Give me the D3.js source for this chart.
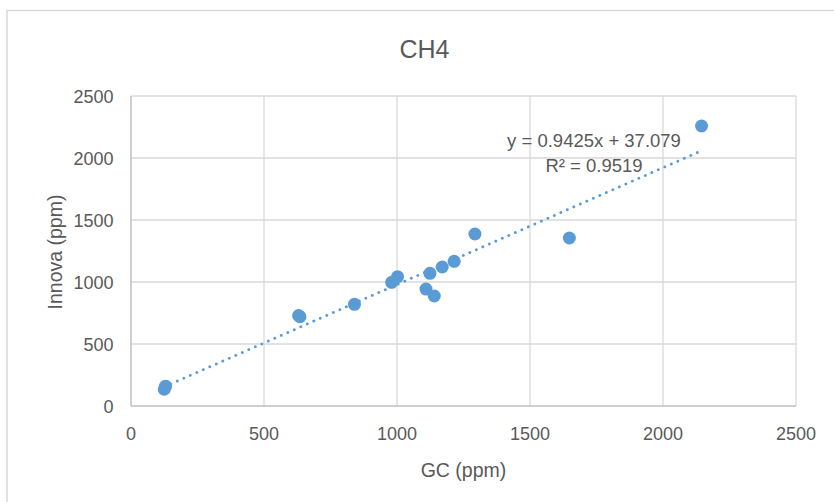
<!DOCTYPE html>
<html><head><meta charset="utf-8">
<script src="https://cdn.jsdelivr.net/npm/d3@7"></script>
<style>body{margin:0;background:#fff}svg{display:block}text{font-family:"Liberation Sans",Arial,sans-serif;fill:#595959}</style>
</head><body><svg id="c" width="834" height="502"></svg>
<script>
const gcValues = [125, 130, 630, 635, 840, 980, 1002, 1109, 1124, 1140, 1170, 1215, 1293, 1648, 2145];
const innovaValues = [135, 160, 730, 720, 820, 997, 1043, 943, 1070, 887, 1121, 1167, 1387, 1355, 2258];
const xTicks = [0, 500, 1000, 1500, 2000, 2500];
const yTicks = [0, 500, 1000, 1500, 2000, 2500];
const slope = 0.9425, intercept = 37.079;
const title = "CH4", xTitle = "GC (ppm)", yTitle = "Innova (ppm)";
const eqText = "y = 0.9425x + 37.079", r2Text = "R² = 0.9519";

const svg = d3.select("#c");
svg.append("rect").attr("x",7).attr("y",10.5).attr("width",900).attr("height",600)
  .attr("fill","#fff").attr("stroke","#D9D9D9").attr("stroke-width",1.5);
const L=131, R=796, T=96, B=406;
const x = d3.scaleLinear().domain([0,2500]).range([L,R]);
const y = d3.scaleLinear().domain([0,2500]).range([B,T]);

const g = svg.append("g");
g.selectAll(".vg").data(xTicks.slice(1)).join("line")
  .attr("x1",d=>x(d)).attr("x2",d=>x(d)).attr("y1",T).attr("y2",B)
  .attr("stroke","#D9D9D9").attr("stroke-width",1.3);
g.selectAll(".hg").data(yTicks.slice(1)).join("line")
  .attr("x1",L).attr("x2",R).attr("y1",d=>y(d)).attr("y2",d=>y(d))
  .attr("stroke","#D9D9D9").attr("stroke-width",1.3);
g.append("line").attr("x1",L).attr("x2",R).attr("y1",B).attr("y2",B).attr("stroke","#BFBFBF").attr("stroke-width",1.5);
g.append("line").attr("x1",L).attr("x2",L).attr("y1",T).attr("y2",B).attr("stroke","#BFBFBF").attr("stroke-width",1.5);

g.selectAll(".xt").data(xTicks).join("text")
  .attr("x",d=>x(d)).attr("y",440).attr("text-anchor","middle").attr("font-size",18).text(d=>d);
g.selectAll(".yt").data(yTicks).join("text")
  .attr("x",113.5).attr("y",d=>y(d)+6.5).attr("text-anchor","end").attr("font-size",18).text(d=>d);

svg.append("text").attr("x",424.5).attr("y",57.5).attr("text-anchor","middle").attr("font-size",25).text(title);
svg.append("text").attr("x",463.5).attr("y",476.5).attr("text-anchor","middle").attr("font-size",19.5).text(xTitle);
svg.append("text").attr("transform","translate(62,252) rotate(-90)").attr("text-anchor","middle").attr("font-size",19.5).text(yTitle);

const xmin=d3.min(gcValues), xmax=d3.max(gcValues);
g.append("line").attr("x1",x(xmin)).attr("y1",y(slope*xmin+intercept))
  .attr("x2",x(xmax)).attr("y2",y(slope*xmax+intercept))
  .attr("stroke","#5B9BD5").attr("stroke-width",2.8).attr("stroke-dasharray","0.1 7").attr("stroke-linecap","round");

g.selectAll(".pt").data(gcValues.map((v,i)=>[v,innovaValues[i]])).join("circle")
  .attr("cx",d=>x(d[0])).attr("cy",d=>y(d[1])).attr("r",6.5).attr("fill","#5B9BD5");

svg.append("text").attr("x",594).attr("y",146.5).attr("text-anchor","middle").attr("font-size",18.5).text(eqText);
svg.append("text").attr("x",594).attr("y",171.5).attr("text-anchor","middle").attr("font-size",18.5).text(r2Text);
</script></body></html>
